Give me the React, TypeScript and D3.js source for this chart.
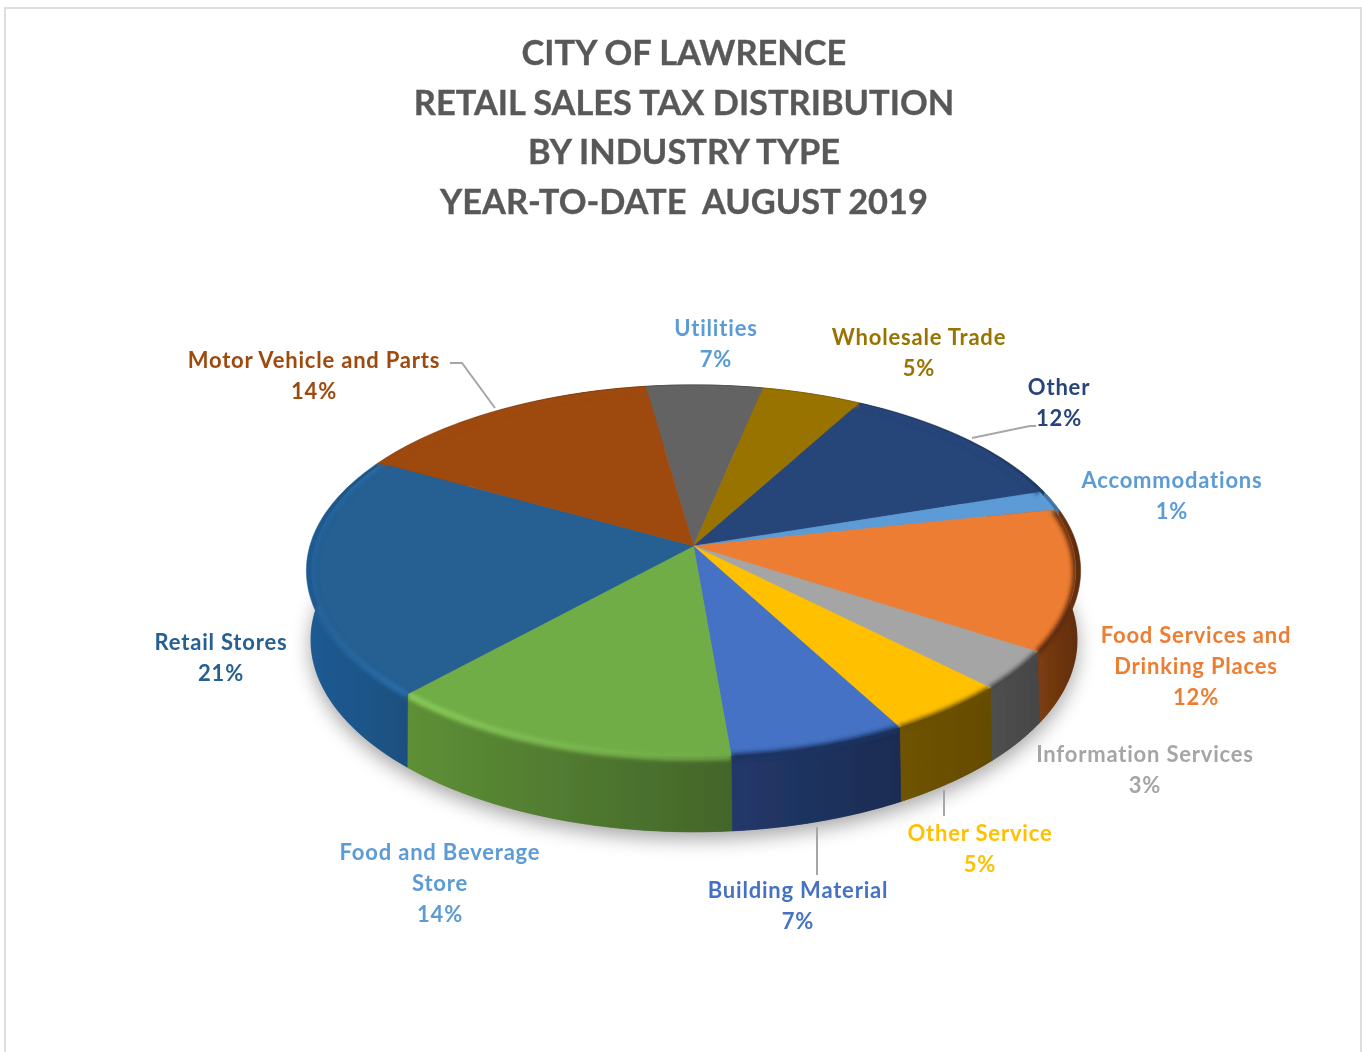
import { line as d3Line, pie, range } from "d3";

const categories = [
  "Utilities",
  "Wholesale Trade",
  "Other",
  "Accommodations",
  "Food Services and Drinking Places",
  "Information Services",
  "Other Service",
  "Building Material",
  "Food and Beverage Store",
  "Retail Stores",
  "Motor Vehicle and Parts",
];
const shares = [5.6, 4.8, 11.9, 1.7, 12.3, 3.4, 4.6, 6.6, 13.3, 21.1, 14.7];
const percentLabels = ["7%", "5%", "12%", "1%", "12%", "3%", "5%", "7%", "14%", "21%", "14%"];
const faceColors = ["#636363", "#997300", "#264478", "#5b9bd5", "#ed7d31", "#a5a5a5", "#ffc000", "#4472c4", "#70ad47", "#255e91", "#9e480e"];
const wallLeft = ["#636363", "#997300", "#1f3a68", "#3f74a6", "#7a3c12", "#4f4f4f", "#6f5300", "#22386a", "#5e9036", "#1f5b93", "#9e480e"];
const wallRight = ["#636363", "#997300", "#1f3a68", "#3f74a6", "#5e2c0d", "#454545", "#644b00", "#1a2c52", "#43652a", "#1b5080", "#9e480e"];
const rimLeft = ["#636363", "#997300", "#264478", "#5b9bd5", "#5e2c0d", "#4a4a4a", "#6b5000", "#1c3260", "#8ccf5c", "#26629a", "#9e480e"];
const rimRight = ["#636363", "#997300", "#264478", "#5b9bd5", "#5e2c0d", "#4a4a4a", "#6b5000", "#1c3260", "#6fa845", "#2a6ea8", "#9e480e"];
const labelColors = ["#5b9bd5", "#997300", "#264478", "#5b9bd5", "#ed7d31", "#a5a5a5", "#ffc000", "#4472c4", "#5b9bd5", "#255e91", "#9e480e"];
const labelLines = [
  ["Utilities"],
  ["Wholesale Trade"],
  ["Other"],
  ["Accommodations"],
  ["Food Services and", "Drinking Places"],
  ["Information Services"],
  ["Other Service"],
  ["Building Material"],
  ["Food and Beverage", "Store"],
  ["Retail Stores"],
  ["Motor Vehicle and Parts"],
];
const labelAnchors = [
  [716, 336],
  [919, 345],
  [1059, 395],
  [1172, 488],
  [1196, 643],
  [1145, 762],
  [980, 841],
  [798, 898],
  [440, 860],
  [221, 650],
  [314, 368],
];
const titleLines = [
  "CITY OF LAWRENCE",
  "RETAIL SALES TAX DISTRIBUTION",
  "BY INDUSTRY TYPE",
  "YEAR-TO-DATE  AUGUST 2019",
];
const leaders = [
  "M450,363 L462,363 L495,408",
  "M972,438 L1030,426 L1036,426",
  "M817,827 L817,875",
  "M944,790 L944,816",
];

const width = 1362;
const height = 1052;
const deg = Math.PI / 180;

// perspective planes: apex y, scale, foreshortening
const outerPlane = { cx: 693.5, a: 546, b: 182.5, k: 0.133, r: 383.7 };
const facePlane = { ...outerPlane, r: 378.7 };
const basePlane = { cx: 694, a: 614, b: 188.4, k: 0.135, r: 379.5 };
type Plane = typeof outerPlane;

function project(theta: number, p: Plane): [number, number] {
  const u = Math.sin(theta);
  const v = -Math.cos(theta);
  const w = 1 - p.k * v;
  return [p.cx + (p.r * u) / w, p.a + (p.b * v) / w];
}

function rim(a0: number, a1: number, p: Plane) {
  const n = Math.max(2, Math.ceil((a1 - a0) / (1 * deg)));
  return range(n + 1).map((i) => project(a0 + ((a1 - a0) * i) / n, p));
}

const path = d3Line();

const startAngle = -8.2 * deg;
const arcs = pie<number>()
  .sort(null)
  .startAngle(startAngle)
  .endAngle(startAngle + 2 * Math.PI)
  .padAngle(0)(shares);

const apex: [number, number] = [facePlane.cx, facePlane.a];
const faces = arcs.map((d) => path([apex, ...rim(d.startAngle, d.endAngle, facePlane)]) + "Z");
// wall runs from the face edge down to the base; the backing band also fills out to the outer rim
const band = (d: { startAngle: number; endAngle: number }, upper: Plane) =>
  path([
    ...rim(d.startAngle, d.endAngle, upper),
    ...rim(d.startAngle, d.endAngle, basePlane).reverse(),
  ]) + "Z";
const walls = arcs.map((d) => band(d, facePlane));
const backing = arcs.map((d) => band(d, outerPlane));
const edges = arcs.map((d) => path(rim(d.startAngle, d.endAngle, facePlane)) ?? "");
const wallExtent = arcs.map((d) => {
  const xs = rim(d.startAngle, d.endAngle, outerPlane).map((q) => q[0]);
  return [Math.min(...xs), Math.max(...xs)];
});
const baseOutline = path(rim(0, 2 * Math.PI, basePlane)) + "Z";
const backRim = path(rim(-62 * deg, 75 * deg, outerPlane));

export default function App() {
  return (
    <svg
      width={width}
      height={height}
      viewBox={`0 0 ${width} ${height}`}
      style={{ position: "absolute", left: 0, top: 0, display: "block", background: "#fff" }}
      fontFamily="Lato, 'Open Sans', sans-serif"
    >
      <defs>
        <filter id="soft" x="-5%" y="-5%" width="110%" height="110%">
          <feGaussianBlur stdDeviation="0.55" />
        </filter>
        <filter id="shadow" x="-10%" y="-10%" width="120%" height="120%">
          <feGaussianBlur stdDeviation="10" />
        </filter>
        <filter id="bevelBlur" filterUnits="userSpaceOnUse" x={250} y={350} width={900} height={520}>
          <feGaussianBlur stdDeviation="2.2" />
        </filter>
        {arcs.map((_, i) => (
          <linearGradient
            key={`w${i}`}
            id={`wall-${i}`}
            gradientUnits="userSpaceOnUse"
            x1={wallExtent[i][0]}
            x2={wallExtent[i][1]}
            y1={0}
            y2={0}
          >
            <stop offset="0%" stopColor={wallLeft[i]} />
            <stop offset="100%" stopColor={wallRight[i]} />
          </linearGradient>
        ))}
        {arcs.map((_, i) => (
          <linearGradient
            key={`r${i}`}
            id={`edge-${i}`}
            gradientUnits="userSpaceOnUse"
            x1={wallExtent[i][0]}
            x2={wallExtent[i][1]}
            y1={0}
            y2={0}
          >
            <stop offset="0%" stopColor={rimLeft[i]} />
            <stop offset="100%" stopColor={rimRight[i]} />
          </linearGradient>
        ))}
        {arcs.map((_, i) => (
          <clipPath key={`c${i}`} id={`slice-${i}`}>
            <path d={faces[i]} />
            <path d={walls[i]} />
          </clipPath>
        ))}
      </defs>

      <g filter="url(#soft)">
        {/* page frame */}
        <path d="M5,1052 L5,8 L1361,8 L1361,1052" fill="none" stroke="#dedede" strokeWidth={2} />

        {/* shadow under the disc */}
        <path d={baseOutline} fill="#000" opacity={0.36} filter="url(#shadow)" transform="translate(0,7)" />

        {/* side wall */}
        {backing.map((d, i) => (
          <path key={categories[i]} d={d} fill={`url(#wall-${i})`} stroke={`url(#wall-${i})`} strokeWidth={0.5} />
        ))}
        {walls.map((d, i) => (
          <path key={categories[i]} d={d} fill={`url(#wall-${i})`} stroke={`url(#wall-${i})`} strokeWidth={0.5} />
        ))}

        {/* top face */}
        {faces.map((d, i) => (
          <path key={categories[i]} d={d} fill={faceColors[i]} stroke={faceColors[i]} strokeWidth={0.4} />
        ))}

        {/* rounded edge, blurred per slice and kept inside it */}
        {edges.map((d, i) => (
          <g key={categories[i]} clipPath={`url(#slice-${i})`}>
            <path d={d} fill="none" stroke={`url(#edge-${i})`} strokeWidth={6} filter="url(#bevelBlur)" transform="translate(0,1)" />
          </g>
        ))}
        <path d={backRim ?? ""} fill="none" stroke="#000" strokeOpacity={0.16} strokeWidth={1} />

        {/* leader lines */}
        {leaders.map((d) => (
          <path key={d} d={d} fill="none" stroke="#a6a6a6" strokeWidth={2} />
        ))}

        {/* data labels */}
        {labelLines.map((lines, i) => (
          <text
            key={categories[i]}
            x={labelAnchors[i][0]}
            y={labelAnchors[i][1]}
            fill={labelColors[i]}
            fontSize={22}
            fontWeight={700}
            letterSpacing={0.8}
            textAnchor="middle"
          >
            {[...lines, percentLabels[i]].map((t, j) => (
              <tspan key={j} x={labelAnchors[i][0]} dy={j === 0 ? 0 : j === 2 ? 31.5 : 30.5}>
                {t}
              </tspan>
            ))}
          </text>
        ))}

        {/* title */}
        <text
          x={684}
          y={65}
          fill="#595959"
          stroke="#595959"
          strokeWidth={0.35}
          fontSize={34.4}
          fontWeight={700}
          textAnchor="middle"
          style={{ whiteSpace: "pre" }}
        >
          {titleLines.map((t, j) => (
            <tspan key={j} x={684} dy={j === 0 ? 0 : 49.5}>
              {t}
            </tspan>
          ))}
        </text>
      </g>
    </svg>
  );
}
